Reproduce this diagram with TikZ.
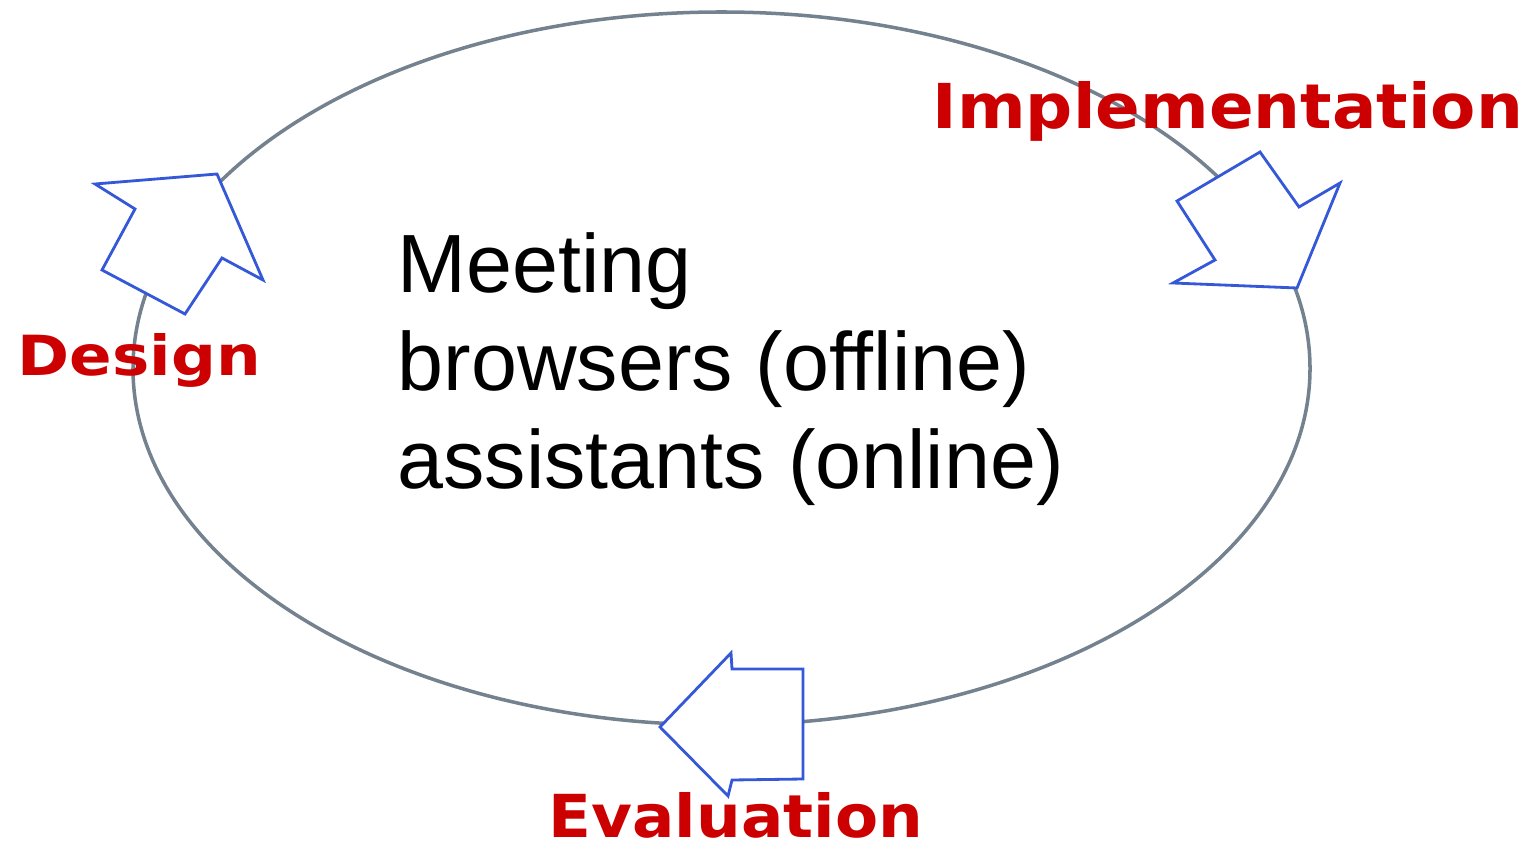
\documentclass[tikz,border=0pt]{standalone}
\usepackage{fontspec}
\setmainfont{Liberation Sans}
\newfontfamily\labelfont{DejaVu Sans}
\definecolor{cycred}{HTML}{CC0000}
\definecolor{cycblue}{HTML}{3558D8}
\definecolor{cycgray}{HTML}{74828F}
\begin{document}
\begin{tikzpicture}[x=0.01cm,y=-0.01cm,
  cyc/.style={draw=cycgray,line width=1pt},
  blockarrow/.style={draw=cycblue,fill=white,line width=0.8pt,line join=miter},
  phase/.style={text=cycred,inner sep=0pt,anchor=base west,font=\labelfont\bfseries},
  centre/.style={inner sep=0pt,anchor=north west,align=left,font=\fontsize{23.5}{27.9}\selectfont}]
\useasboundingbox (0,0) rectangle (1528,843);
\draw[cyc] (721.5,368.5) ellipse [x radius=588.5, y radius=356.5];
% Design arrow
\draw[blockarrow] (95,184) -- (217,174) -- (263,280) -- (222,258) -- (185,314) -- (102,270) -- (135,209) -- cycle;
% Implementation arrow
\draw[blockarrow] (1260,152) -- (1299,207) -- (1340,183) -- (1297,288) -- (1173,283) -- (1215,260) -- (1177,201) -- cycle;
% Evaluation arrow
\draw[blockarrow] (660,727) -- (731,653) -- (732,669) -- (803,669) -- (803,779) -- (732,780) -- (728,796) -- cycle;
\node[phase] (impl) at (932,129) {\resizebox{5.9cm}{0.47cm}{Implementation}};
\node[phase] (design) at (17,376) {\resizebox{2.43cm}{0.42cm}{Design}};
\node[phase] (eval) at (548,837) {\resizebox{3.74cm}{0.45cm}{Evaluation}};
\node[centre] (txt) at (397,232) {Meeting\\browsers (offline)\\assistants (online)};
\end{tikzpicture}
\end{document}
